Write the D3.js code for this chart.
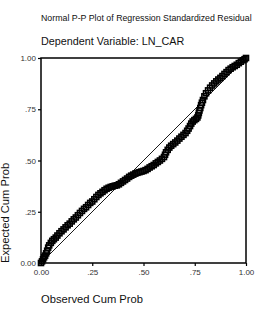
<!DOCTYPE html>
<html>
<head>
<meta charset="utf-8">
<script src="https://cdn.jsdelivr.net/npm/d3@7"></script>
<style>
body { margin: 0; background: #fff; }
text { font-family: "Liberation Sans", Arial, sans-serif; }
</style>
</head>
<body>
<div id="chart-area"></div>
<script>
// observed cum prob (x) and expected cum prob (y)
var observed = [0.000, 0.005, 0.010, 0.015, 0.020, 0.025, 0.030, 0.035, 0.040, 0.048,
  0.055, 0.063, 0.072, 0.080, 0.090, 0.100, 0.110, 0.120, 0.130, 0.140,
  0.150, 0.160, 0.170, 0.180, 0.190, 0.200, 0.210, 0.220, 0.230, 0.240,
  0.250, 0.260, 0.270, 0.280, 0.290, 0.300, 0.310, 0.320, 0.330, 0.340,
  0.350, 0.360, 0.370, 0.380, 0.390, 0.400, 0.410, 0.420, 0.430, 0.440,
  0.450, 0.460, 0.470, 0.480, 0.490, 0.500, 0.510, 0.520, 0.530, 0.540,
  0.550, 0.560, 0.570, 0.580, 0.590, 0.600, 0.605, 0.610, 0.618, 0.626,
  0.635, 0.645, 0.655, 0.665, 0.675, 0.685, 0.695, 0.705, 0.713, 0.720,
  0.727, 0.733, 0.740, 0.748, 0.756, 0.763, 0.767, 0.770, 0.773, 0.777,
  0.781, 0.785, 0.790, 0.797, 0.805, 0.815, 0.825, 0.835, 0.845, 0.855,
  0.865, 0.875, 0.885, 0.895, 0.905, 0.915, 0.925, 0.935, 0.945, 0.955,
  0.965, 0.975, 0.985, 0.993, 1.000];
var expected = [0.000, 0.008, 0.018, 0.028, 0.036, 0.047, 0.060, 0.075, 0.086, 0.098,
  0.108, 0.116, 0.124, 0.134, 0.145, 0.155, 0.164, 0.174, 0.184, 0.192,
  0.203, 0.213, 0.222, 0.233, 0.244, 0.254, 0.264, 0.272, 0.283, 0.293,
  0.300, 0.311, 0.322, 0.332, 0.340, 0.347, 0.355, 0.362, 0.367, 0.371,
  0.374, 0.377, 0.379, 0.384, 0.391, 0.398, 0.405, 0.412, 0.420, 0.426,
  0.431, 0.436, 0.440, 0.443, 0.446, 0.449, 0.453, 0.459, 0.466, 0.472,
  0.478, 0.486, 0.493, 0.500, 0.508, 0.517, 0.528, 0.540, 0.552, 0.563,
  0.572, 0.580, 0.588, 0.597, 0.607, 0.616, 0.625, 0.634, 0.645, 0.656,
  0.668, 0.680, 0.690, 0.697, 0.703, 0.710, 0.720, 0.732, 0.744, 0.756,
  0.770, 0.782, 0.795, 0.813, 0.828, 0.842, 0.855, 0.866, 0.876, 0.886,
  0.895, 0.903, 0.912, 0.922, 0.931, 0.941, 0.948, 0.955, 0.961, 0.967,
  0.975, 0.982, 0.989, 0.994, 1.000];
var ticks = [0, 0.25, 0.5, 0.75, 1];
var tickLabels = ["0.00", ".25", ".50", ".75", "1.00"];

var margin = {left: 41, right: 10, top: 58, bottom: 49};
var width = 205;
var height = 205;

var svg = d3.select('#chart-area')
.append('svg')
.attr('width', 256)
.attr('height', 312);

svg.append("text")
.attr("x", 41)
.attr("y", 21)
.attr("font-size", "8.8px")
.attr("fill", "#111")
.text("Normal P-P Plot of Regression Standardized Residual");

svg.append("text")
.attr("x", 41)
.attr("y", 45)
.attr("font-size", "10.8px")
.attr("fill", "#111")
.text("Dependent Variable: LN_CAR");

var g = svg.append("g")
.attr("transform", "translate(" + margin.left + ", " + margin.top + ")");

var x = d3.scaleLinear().domain([0, 1]).range([0, width]);
var y = d3.scaleLinear().domain([0, 1]).range([height, 0]);

var fmt = (d) => tickLabels[ticks.indexOf(d)];

var botAxis = d3.axisBottom(x).tickValues(ticks).tickFormat(fmt).tickSize(3).tickPadding(3);
var leftAxis = d3.axisLeft(y).tickValues(ticks).tickFormat(fmt).tickSize(3).tickPadding(2);

g.append("g")
.attr("class", "bottom axis")
.attr("transform", "translate(0, " + height + ")")
.call(botAxis);

g.append("g")
.attr("class", "left axis")
.call(leftAxis);

g.selectAll(".axis .domain").remove();
g.selectAll(".axis line").attr("stroke", "#000").attr("stroke-width", 1.2);
g.selectAll(".axis text")
.attr("font-family", "Liberation Sans, Arial, sans-serif")
.attr("font-size", "8px")
.attr("fill", "#333");

// frame
g.append("rect")
.attr("x", 0)
.attr("y", 0)
.attr("width", width)
.attr("height", height)
.attr("fill", "none")
.attr("stroke", "#000")
.attr("stroke-width", 1.5);

// reference diagonal
g.append("line")
.attr("x1", x(0)).attr("y1", y(0))
.attr("x2", x(1)).attr("y2", y(1))
.attr("stroke", "#000")
.attr("stroke-width", 0.9);

var pts = observed.map((d, i) => ({o: d, e: expected[i]}));

g.selectAll("rect.pt").data(pts)
.enter()
.append("rect")
.attr("class", "pt")
.attr("x", (d) => x(d.o) - 2.5)
.attr("y", (d) => y(d.e) - 2.5)
.attr("width", 5)
.attr("height", 5)
.attr("fill", "none")
.attr("stroke", "#000")
.attr("stroke-width", 1.6);

svg.append("text")
.attr("transform", "translate(9, 263) rotate(-90)")
.attr("font-size", "11.2px")
.attr("fill", "#111")
.text("Expected Cum Prob");

svg.append("text")
.attr("x", 41)
.attr("y", 303)
.attr("font-size", "11.2px")
.attr("fill", "#111")
.text("Observed Cum Prob");
</script>
</body>
</html>
